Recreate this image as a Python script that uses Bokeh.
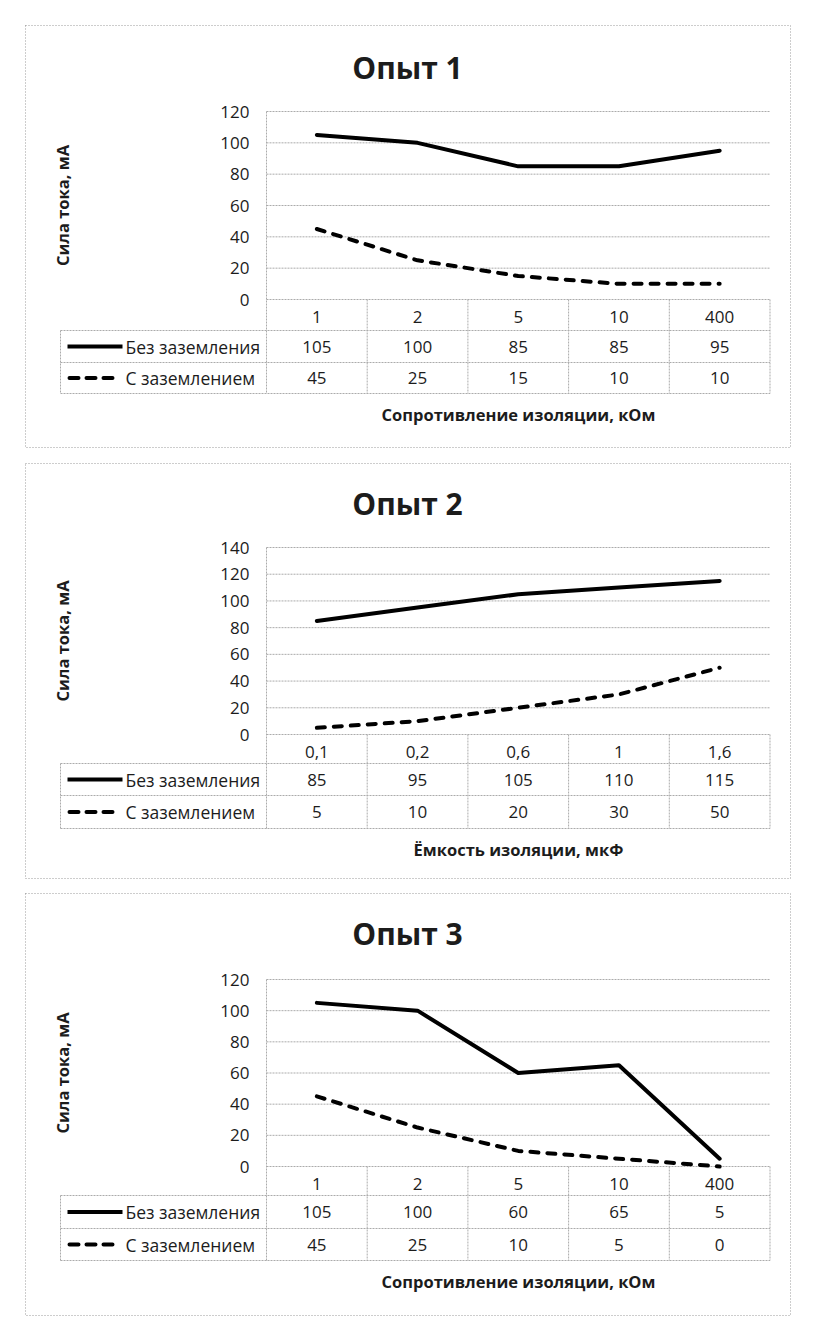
from bokeh.plotting import figure
from bokeh.models import Range1d, LinearAxis, FixedTicker
from bokeh.layouts import column
from bokeh.embed import file_html
from bokeh.resources import INLINE
from bokeh.core.properties import value

# ---------------- data ----------------
chart_titles = ["Опыт 1", "Опыт 2", "Опыт 3"]
x_titles = ["Сопротивление изоляции, кОм", "Ёмкость изоляции, мкФ", "Сопротивление изоляции, кОм"]
y_title = "Сила тока, мА"
series_names = ["Без заземления", "С заземлением"]

categories_1 = ["1", "2", "5", "10", "400"]
no_ground_1 = [105, 100, 85, 85, 95]
ground_1 = [45, 25, 15, 10, 10]
y_ticks_1 = [0, 20, 40, 60, 80, 100, 120]

categories_2 = ["0,1", "0,2", "0,6", "1", "1,6"]
no_ground_2 = [85, 95, 105, 110, 115]
ground_2 = [5, 10, 20, 30, 50]
y_ticks_2 = [0, 20, 40, 60, 80, 100, 120, 140]

categories_3 = ["1", "2", "5", "10", "400"]
no_ground_3 = [105, 100, 60, 65, 5]
ground_3 = [45, 25, 10, 5, 0]
y_ticks_3 = [0, 20, 40, 60, 80, 100, 120]

# ---------------- style / layout (page pixels) ----------------
FONT = "Open Sans"
TXT = "#1c1c1c"
GRID = "#ababab"
PAGE_L, PAGE_R = 0, 804
COL_L, COL_W = 266.0, 100.7
LEG_L = 60.0
PANEL_L, PANEL_R = 25, 790
TITLE_X = 407

layouts = [
    dict(top=0, h=455, panel=(25, 447), title=67, zero=299, tick_top=111,
         rows=(330, 362, 393)),
    dict(top=455, h=431, panel=(463, 878), title=503, zero=734, tick_top=547,
         rows=(763, 795, 828)),
    dict(top=886, h=439, panel=(893, 1315), title=933, zero=1166, tick_top=979,
         rows=(1195, 1228, 1260)),
]


def make_chart(title, cats, s1, s2, ticks, xtitle, lay):
    W = PAGE_R - PAGE_L
    top, H = lay["top"], lay["h"]
    scale = (lay["zero"] - lay["tick_top"]) / ticks[-1]

    def X(px):
        return (px - COL_L) / COL_W - 0.5

    def Y(py):
        return (lay["zero"] - py) / scale

    p = figure(width=W, height=H,
               x_range=Range1d(X(PAGE_L), X(PAGE_R)),
               y_range=Range1d(Y(top + H), Y(top)),
               x_axis_type=None, y_axis_type=None,
               toolbar_location=None, output_backend="svg",
               min_border=0, outline_line_color=None,
               background_fill_color="white", border_fill_color="white")

    n = len(cats)
    idx = list(range(n))
    r0, r1, r2 = lay["rows"]
    rc1, rc2 = (r0 + r1) / 2, (r1 + r2) / 2

    # panel border
    p.quad(left=X(PANEL_L), right=X(PANEL_R), top=Y(lay["panel"][0]), bottom=Y(lay["panel"][1]),
           fill_color=None, line_color="#9a9a9a", line_dash="1 2", line_width=1)

    # horizontal gridlines
    p.segment(x0=[-0.5] * len(ticks), x1=[n - 0.5] * len(ticks), y0=ticks, y1=ticks,
              line_color=GRID, line_width=1, line_dash="2 1")

    # table lines
    xs_edges = [i - 0.5 for i in range(n + 1)]
    p.segment(x0=xs_edges, x1=xs_edges, y0=[ticks[-1]] + [0] * n, y1=[Y(r2)] * (n + 1),
              line_color=GRID, line_width=1, line_dash="2 1")
    p.segment(x0=[X(LEG_L)], x1=[X(LEG_L)], y0=[Y(r0)], y1=[Y(r2)],
              line_color=GRID, line_width=1, line_dash="2 1")
    p.segment(x0=[X(LEG_L)] * 3, x1=[n - 0.5] * 3, y0=[Y(r0), Y(r1), Y(r2)], y1=[Y(r0), Y(r1), Y(r2)],
              line_color=GRID, line_width=1, line_dash="2 1")

    # data lines
    p.line(idx, s1, line_color="black", line_width=4, line_join="round", line_cap="round")
    p.line(idx, s2, line_color="black", line_width=4, line_dash="8 9", line_join="round", line_cap="round")

    # legend keys in table
    p.segment(x0=[X(67)], x1=[X(122)], y0=[Y(rc1)], y1=[Y(rc1)], line_color="black", line_width=4)
    p.segment(x0=[X(69)], x1=[X(114)], y0=[Y(rc2)], y1=[Y(rc2)], line_color="black", line_width=4,
              line_dash="9 8", line_cap="round")
    p.text(x=[X(125)] * 2, y=[Y(rc1), Y(rc2)], text=series_names,
           text_font=value(FONT), text_font_size="17.5px", text_color=TXT,
           text_align="left", text_baseline="middle")

    # table values
    p.text(x=idx, y=[Y(rc1)] * n, text=[str(v) for v in s1],
           text_font=value(FONT), text_font_size="17px", text_color=TXT,
           text_align="center", text_baseline="middle")
    p.text(x=idx, y=[Y(rc2)] * n, text=[str(v) for v in s2],
           text_font=value(FONT), text_font_size="17px", text_color=TXT,
           text_align="center", text_baseline="middle")

    # chart title
    p.text(x=[X(TITLE_X)], y=[Y(lay["title"])], text=[title],
           text_font=value(FONT), text_font_size="30px", text_font_style="bold",
           text_color=TXT, text_align="center", text_baseline="middle")

    # y axis
    yax = LinearAxis(ticker=FixedTicker(ticks=ticks), fixed_location=-0.5,
                     bounds=(0, ticks[-1]), axis_label=y_title)
    yax.axis_line_color = None
    yax.major_tick_out = 0
    yax.major_tick_in = 0
    yax.minor_tick_out = 0
    yax.minor_tick_in = 0
    yax.major_label_standoff = 17
    yax.major_label_text_font = FONT
    yax.major_label_text_font_size = "17px"
    yax.major_label_text_color = TXT
    yax.axis_label_text_font = FONT
    yax.axis_label_text_font_size = "16.5px"
    yax.axis_label_text_font_style = "bold"
    yax.axis_label_text_color = TXT
    yax.axis_label_standoff = 143
    p.add_layout(yax, "left")

    # x axis (category row of the data table)
    xax = LinearAxis(ticker=FixedTicker(ticks=idx), fixed_location=0,
                     bounds=(-0.5, n - 0.5), axis_label=xtitle,
                     major_label_overrides={i: c for i, c in enumerate(cats)})
    xax.axis_line_color = None
    xax.major_tick_out = 0
    xax.major_tick_in = 0
    xax.minor_tick_out = 0
    xax.minor_tick_in = 0
    xax.major_label_standoff = 11
    xax.major_label_text_font = FONT
    xax.major_label_text_font_size = "17px"
    xax.major_label_text_color = TXT
    xax.axis_label_text_font = FONT
    xax.axis_label_text_font_size = "16.5px"
    xax.axis_label_text_font_style = "bold"
    xax.axis_label_text_color = TXT
    xax.axis_label_standoff = 77
    p.add_layout(xax, "below")
    return p


figs = [
    make_chart(chart_titles[0], categories_1, no_ground_1, ground_1, y_ticks_1, x_titles[0], layouts[0]),
    make_chart(chart_titles[1], categories_2, no_ground_2, ground_2, y_ticks_2, x_titles[1], layouts[1]),
    make_chart(chart_titles[2], categories_3, no_ground_3, ground_3, y_ticks_3, x_titles[2], layouts[2]),
]

layout = column(*figs, spacing=0)
open("out.html", "w").write(file_html(layout, INLINE))
